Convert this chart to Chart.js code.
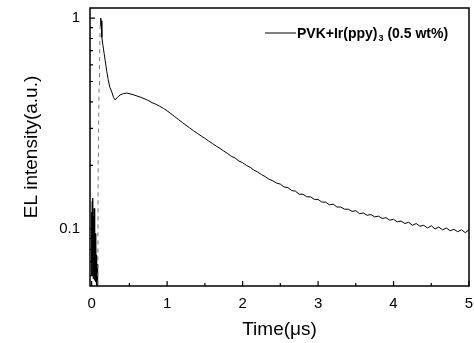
<!DOCTYPE html>
<html>
<head>
<meta charset="utf-8">
<script src="https://cdn.jsdelivr.net/npm/chart.js@4.4.0/dist/chart.umd.min.js"></script>
<style>
  html, body { margin: 0; padding: 0; background: #fff; }
</style>
</head>
<body>
<canvas id="elChart" width="474" height="343"></canvas>
<script>
// time axis (microseconds) and EL intensity
const times = [
  0, 0.004, 0.008, 0.012, 0.016, 0.020, 0.024, 0.028, 0.032, 0.036,
  0.040, 0.044, 0.048, 0.052, 0.056, 0.060, 0.064, 0.068, 0.072, 0.076,
  0.082, 0.086, 0.090, 0.098, 0.104, 0.112, 0.120, 0.126, 0.135, 0.150,
  0.165, 0.179, 0.200, 0.219, 0.240, 0.267, 0.290, 0.311, 0.340, 0.377,
  0.420, 0.466, 0.550, 0.642, 0.730,
  0.80, 0.85, 0.90, 0.95, 1.00, 1.05, 1.10, 1.15, 1.20, 1.25,
  1.30, 1.35, 1.40, 1.45, 1.50, 1.55, 1.60, 1.65, 1.70, 1.75,
  1.80, 1.85, 1.90, 1.95, 2.00, 2.05, 2.10, 2.15, 2.20, 2.25,
  2.30, 2.35, 2.40, 2.45, 2.50, 2.55, 2.60, 2.65, 2.70, 2.75,
  2.80, 2.85, 2.90, 2.95, 3.00, 3.05, 3.10, 3.15, 3.20, 3.25,
  3.30, 3.35, 3.40, 3.45, 3.50, 3.55, 3.60, 3.65, 3.70, 3.75,
  3.80, 3.85, 3.90, 3.95, 4.00, 4.05, 4.10, 4.15, 4.20, 4.25,
  4.30, 4.35, 4.40, 4.45, 4.50, 4.55, 4.60, 4.65, 4.70, 4.75,
  4.80, 4.85, 4.90, 4.95, 5.00
];
const intensity = [
  0.120, 0.060, 0.135, 0.070, 0.140, 0.058, 0.115, 0.062, 0.125, 0.057,
  0.105, 0.060, 0.095, 0.056, 0.088, 0.058, 0.075, 0.052, 0.068, 0.050,
  0.050, 0.220, 0.260, 0.470, 0.580, 0.920, 1.000, 0.970, 0.810, 0.740,
  0.680, 0.630, 0.560, 0.510, 0.470, 0.446, 0.420, 0.409, 0.420, 0.432,
  0.438, 0.441, 0.433, 0.422, 0.410,
  0.397, 0.390, 0.382, 0.373, 0.363, 0.352, 0.341, 0.330, 0.320, 0.310,
  0.301, 0.292, 0.284, 0.276, 0.269, 0.261, 0.254, 0.247, 0.241, 0.234,
  0.228, 0.221, 0.217, 0.210, 0.206, 0.200, 0.196, 0.190, 0.186, 0.181,
  0.177, 0.172, 0.169, 0.165, 0.163, 0.158, 0.157, 0.152, 0.151, 0.146,
  0.146, 0.142, 0.142, 0.138, 0.138, 0.134, 0.134, 0.130, 0.131, 0.127,
  0.127, 0.124, 0.124, 0.121, 0.122, 0.118, 0.119, 0.116, 0.117, 0.114,
  0.115, 0.112, 0.113, 0.110, 0.111, 0.108, 0.109, 0.106, 0.1075, 0.104,
  0.106, 0.103, 0.104, 0.101, 0.1035, 0.100, 0.102, 0.099, 0.101, 0.098,
  0.0995, 0.097, 0.099, 0.096, 0.099
];

const xMajorTicks = [0, 1, 2, 3, 4, 5];
const xMinorTicks = [0.5, 1.5, 2.5, 3.5, 4.5];
const yMajorTicks = [0.1, 1];
const yMinorTicks = [0.06, 0.07, 0.08, 0.09, 0.2, 0.3, 0.4, 0.5, 0.6, 0.7, 0.8, 0.9];
const seriesName = "PVK+Ir(ppy)";
const seriesSub = "3";
const seriesTail = " (0.5 wt%)";

const FONT = '"Liberation Sans", Arial, sans-serif';

// no extra room for edge labels: keep the plot box where the figure has it
function noPadding(s) {
  s.paddingLeft = 0;
  s.paddingRight = 0;
  s.paddingTop = 0;
  s.paddingBottom = 0;
}

// frame, inward ticks and legend (drawn on top of the data)
const framePlugin = {
  id: "frame",
  afterDraw(chart) {
    const { ctx, chartArea: a, scales } = chart;
    ctx.save();
    ctx.strokeStyle = "#000";
    ctx.lineWidth = 1.5;
    ctx.strokeRect(a.left, a.top, a.right - a.left, a.bottom - a.top);

    ctx.lineWidth = 1.2;
    ctx.beginPath();
    xMajorTicks.forEach((v) => {
      const px = scales.x.getPixelForValue(v);
      ctx.moveTo(px, a.bottom); ctx.lineTo(px, a.bottom - 5);
    });
    xMinorTicks.forEach((v) => {
      const px = scales.x.getPixelForValue(v);
      ctx.moveTo(px, a.bottom); ctx.lineTo(px, a.bottom - 3);
    });
    yMajorTicks.forEach((v) => {
      const py = scales.y.getPixelForValue(v);
      ctx.moveTo(a.left, py); ctx.lineTo(a.left + 5, py);
    });
    yMinorTicks.forEach((v) => {
      const py = scales.y.getPixelForValue(v);
      ctx.moveTo(a.left, py); ctx.lineTo(a.left + 3, py);
    });
    ctx.stroke();

    // legend
    const lx = a.right - 204;
    const ly = a.top + 25;
    ctx.lineWidth = 1;
    ctx.beginPath();
    ctx.moveTo(lx, ly); ctx.lineTo(lx + 31, ly);
    ctx.stroke();
    ctx.fillStyle = "#000";
    ctx.textBaseline = "alphabetic";
    ctx.font = "bold 14px " + FONT;
    let tx = lx + 32;
    ctx.fillText(seriesName, tx, ly + 5);
    tx += ctx.measureText(seriesName).width + 1;
    ctx.font = "bold 9px " + FONT;
    ctx.fillText(seriesSub, tx, ly + 8);
    tx += ctx.measureText(seriesSub).width;
    ctx.font = "bold 14px " + FONT;
    ctx.fillText(seriesTail, tx, ly + 5);
    ctx.restore();
  },
};

const points = times.map((t, i) => ({ x: t, y: intensity[i] }));

new Chart(document.getElementById("elChart"), {
  type: "line",
  data: {
    datasets: [
      {
        label: seriesName + seriesSub + seriesTail,
        data: points,
        borderColor: "#000",
        borderWidth: 1,
        pointRadius: 0,
        tension: 0,
        segment: {
          // the fast rising edge is only faintly recorded
          borderColor: (c) =>
            c.p0.parsed.x >= 0.08 && c.p1.parsed.x <= 0.112 ? "#777" : undefined,
          borderDash: (c) =>
            c.p0.parsed.x >= 0.08 && c.p1.parsed.x <= 0.112 ? [4, 4] : undefined,
        },
      },
    ],
  },
  options: {
    responsive: false,
    animation: false,
    devicePixelRatio: 1,
    layout: { padding: { top: 8, right: 5, left: 0, bottom: 0 } },
    plugins: { legend: { display: false }, tooltip: { enabled: false } },
    scales: {
      x: {
        type: "linear",
        min: -0.022,
        max: 5,
        afterBuildTicks: (s) => { s.ticks = xMajorTicks.map((v) => ({ value: v })); },
        afterFit: (s) => { s.height = 57; noPadding(s); },
        grid: { display: false, drawTicks: false },
        border: { display: false },
        ticks: {
          autoSkip: false,
          maxRotation: 0,
          padding: 9,
          color: "#000",
          font: { family: FONT, size: 15 },
          callback: (v) => String(v),
        },
        title: {
          display: true,
          text: "Time(μs)",
          color: "#000",
          font: { family: FONT, size: 19 },
          padding: { top: 0, bottom: 2 },
        },
      },
      y: {
        type: "logarithmic",
        min: 0.0536,
        max: 1.116,
        afterBuildTicks: (s) => { s.ticks = yMajorTicks.map((v) => ({ value: v })); },
        afterFit: (s) => { s.width = 90; noPadding(s); },
        grid: { display: false, drawTicks: false },
        border: { display: false },
        ticks: {
          autoSkip: false,
          padding: 10,
          color: "#000",
          font: { family: FONT, size: 15 },
          callback: (v) => String(v),
        },
        title: {
          display: true,
          text: "EL intensity(a.u.)",
          color: "#000",
          font: { family: FONT, size: 19 },
          padding: { top: 20, bottom: 0 },
        },
      },
    },
  },
  plugins: [framePlugin],
});
</script>
</body>
</html>
